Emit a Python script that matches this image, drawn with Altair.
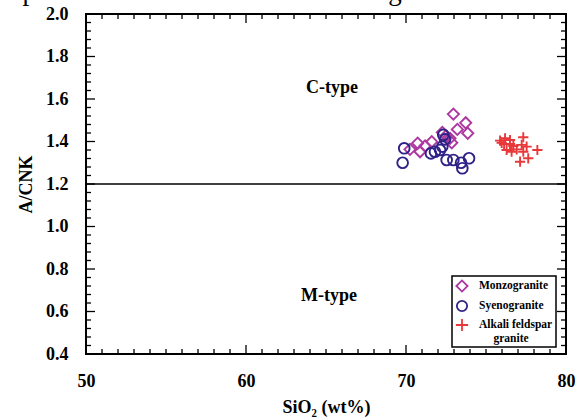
import altair as alt
import pandas as pd

# Sample compositions: SiO2 (wt%) and A/CNK for each granite group
monzo_sio2 = [72.96, 73.73, 73.21, 73.86, 72.27, 72.75, 72.86, 71.61, 71.19, 70.73, 70.25, 70.88, 72.50]
monzo_acnk = [1.529, 1.488, 1.457, 1.439, 1.443, 1.415, 1.394, 1.399, 1.379, 1.392, 1.363, 1.352, 1.426]
syeno_sio2 = [69.89, 69.79, 71.56, 71.81, 72.13, 72.27, 72.33, 72.44, 72.54, 72.96, 73.44, 73.52, 73.94]
syeno_acnk = [1.368, 1.300, 1.344, 1.352, 1.360, 1.376, 1.431, 1.410, 1.313, 1.313, 1.300, 1.274, 1.321]
alkali_sio2 = [75.88, 76.19, 76.50, 77.33, 76.13, 76.50, 76.71, 76.29, 76.60, 77.23, 77.54, 78.21,
               77.33, 77.13, 77.64, 76.92, 75.98]
alkali_acnk = [1.404, 1.415, 1.407, 1.420, 1.388, 1.388, 1.379, 1.360, 1.352, 1.384, 1.376, 1.360,
               1.352, 1.305, 1.321, 1.363, 1.394]

groups = ["Monzogranite", "Syenogranite", "Alkali feldspar granite"]
group_colors = ["#ac38a0", "#2e2288", "#e8383a"]
group_shapes = ["diamond", "circle", "M-1,0L1,0M0,-1L0,1"]
group_sizes = [125, 105, 150]

# Field labels and the C-type / M-type boundary
field_names = ["C-type", "M-type"]
field_sio2 = [65.38, 65.19]
field_acnk = [1.652, 0.673]
boundary_acnk = [1.2]

caption = "separates alkaline and calc-alkaline granitoid series."

# Axis tick positions
x_major = [50, 60, 70, 80]
x_minor = [v for v in range(51, 80) if v % 10 != 0]
y_major = [0.4, 0.6, 0.8, 1.0, 1.2, 1.4, 1.6, 1.8, 2.0]
y_minor = [round(0.4 + 0.04 * i, 2) for i in range(1, 40) if i % 5 != 0]

W, H = 480, 340
SERIF = "Liberation Serif"
MAJOR_LEN, MINOR_LEN = 9, 5

pts = pd.DataFrame({
    "sio2": monzo_sio2 + syeno_sio2 + alkali_sio2,
    "acnk": monzo_acnk + syeno_acnk + alkali_acnk,
    "group": [groups[0]] * len(monzo_sio2) + [groups[1]] * len(syeno_sio2) + [groups[2]] * len(alkali_sio2),
})

xscale = alt.Scale(domain=[50, 80], nice=False, zero=False)
yscale = alt.Scale(domain=[0.4, 2.0], nice=False, zero=False)

xaxis = alt.Axis(
    values=x_major, format="d", title="SiO₂ (wt%)", ticks=False, tickSize=0, domain=False, grid=False,
    labelFont=SERIF, labelFontSize=18, labelFontWeight="bold", labelColor="black", labelPadding=18,
    labelFlush=False, titleFont=SERIF, titleFontSize=18, titleFontWeight="bold", titleColor="black",
    titlePadding=8,
)
yaxis = alt.Axis(
    values=y_major, format=".1f", title="A/CNK", ticks=False, tickSize=0, domain=False, grid=False,
    labelFont=SERIF, labelFontSize=18, labelFontWeight="bold", labelColor="black", labelPadding=18,
    labelFlush=False, titleFont=SERIF, titleFontSize=18, titleFontWeight="bold", titleColor="black",
    titlePadding=10,
)

X = lambda: alt.X("sio2:Q", scale=xscale, axis=xaxis)
Y = lambda: alt.Y("acnk:Q", scale=yscale, axis=yaxis)

points = alt.Chart(pts).mark_point(filled=False, strokeWidth=1.9, opacity=1).encode(
    x=X(), y=Y(),
    color=alt.Color("group:N", scale=alt.Scale(domain=groups, range=group_colors), legend=None),
    shape=alt.Shape("group:N", scale=alt.Scale(domain=groups, range=group_shapes), legend=None),
    size=alt.Size("group:N", scale=alt.Scale(domain=groups, range=group_sizes), legend=None),
)

boundary = alt.Chart(pd.DataFrame({"acnk": boundary_acnk})).mark_rule(
    color="black", strokeWidth=1.5
).encode(y=Y())

fields = alt.Chart(pd.DataFrame({"sio2": field_sio2, "acnk": field_acnk, "name": field_names})).mark_text(
    font=SERIF, fontSize=18, fontWeight="bold", color="black", align="center", baseline="middle"
).encode(x=X(), y=Y(), text="name:N")

one = pd.DataFrame({"k": [0]})

cap = alt.Chart(one).mark_text(
    font=SERIF, fontSize=27, color="black", align="left", baseline="alphabetic"
).encode(x=alt.value(-86), y=alt.value(-14), text=alt.value(caption))


def xticks(values, length):
    df = pd.DataFrame({"sio2": values})
    top = alt.Chart(df).mark_rule(color="black", strokeWidth=1.3).encode(
        x=X(), y=alt.value(0), y2=alt.value(length))
    bottom = alt.Chart(df).mark_rule(color="black", strokeWidth=1.3).encode(
        x=X(), y=alt.value(H - length), y2=alt.value(H))
    return [top, bottom]


def yticks(values, length):
    df = pd.DataFrame({"acnk": values})
    left = alt.Chart(df).mark_rule(color="black", strokeWidth=1.3).encode(
        y=Y(), x=alt.value(0), x2=alt.value(length))
    right = alt.Chart(df).mark_rule(color="black", strokeWidth=1.3).encode(
        y=Y(), x=alt.value(W - length), x2=alt.value(W))
    return [left, right]


tick_layers = (xticks(x_major, MAJOR_LEN) + xticks(x_minor, MINOR_LEN)
               + yticks(y_major, MAJOR_LEN) + yticks(y_minor, MINOR_LEN))

# Legend box in the lower-right corner of the plot
LEG_X0, LEG_X1, LEG_Y0, LEG_Y1 = 366, 470, 262, 333
ROW_Y = [272, 292, 311]
SYM_X, LAB_X = 376, 393
LAB_STYLE = dict(font=SERIF, fontSize=11.5, fontWeight="bold", color="black", baseline="middle")

legend_layers = [
    alt.Chart(one).mark_rect(fill="white", stroke="black", strokeWidth=1.5).encode(
        x=alt.value(LEG_X0), x2=alt.value(LEG_X1), y=alt.value(LEG_Y0), y2=alt.value(LEG_Y1))
]
for name, col, shp, sz, ry in zip(groups, group_colors, group_shapes, group_sizes, ROW_Y):
    legend_layers.append(
        alt.Chart(one).mark_point(shape=shp, color=col, size=sz, filled=False, strokeWidth=1.8, opacity=1)
        .encode(x=alt.value(SYM_X), y=alt.value(ry))
    )
    if name == "Alkali feldspar granite":
        legend_layers.append(alt.Chart(one).mark_text(align="left", **LAB_STYLE).encode(
            x=alt.value(LAB_X), y=alt.value(ry), text=alt.value("Alkali feldspar")))
        legend_layers.append(alt.Chart(one).mark_text(align="center", **LAB_STYLE).encode(
            x=alt.value(425), y=alt.value(ry + 14), text=alt.value("granite")))
    else:
        legend_layers.append(alt.Chart(one).mark_text(align="left", **LAB_STYLE).encode(
            x=alt.value(LAB_X), y=alt.value(ry), text=alt.value(name)))

chart = alt.layer(boundary, *tick_layers, fields, points, *legend_layers, cap).properties(
    width=W, height=H,
    autosize=alt.AutoSizeParams(type="none"),
    padding={"left": 86, "top": 14, "right": 12, "bottom": 65},
    background="white",
).configure_view(stroke="black", strokeWidth=2)

chart.save("out.html", embed_options={"renderer": "svg", "actions": False})
